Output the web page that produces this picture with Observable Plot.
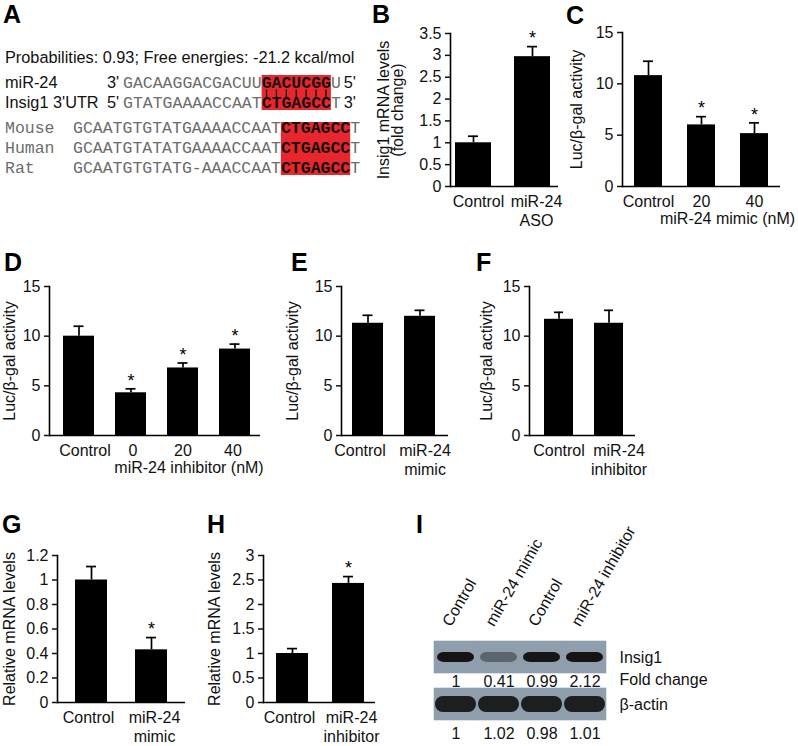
<!DOCTYPE html>
<html><head><meta charset="utf-8">
<script src="https://cdn.jsdelivr.net/npm/d3@7"></script>
<script src="https://cdn.jsdelivr.net/npm/@observablehq/plot@0.6"></script>
<style>
html,body{margin:0;padding:0;background:#fff;}
#fig{position:relative;width:798px;height:746px;overflow:hidden;background:#fff;}
.host{position:absolute;}
.host svg{display:block;max-width:none !important;}
</style></head><body><div id="fig"></div>
<script>
// ---------- DATA ----------
// Panel A
const probText = "Probabilities: 0.93; Free energies: -21.2 kcal/mol";
const pairNames = ["miR-24", "Insig1 3'UTR"];
const pairEnds = [["3'", "5'"], ["5'", "3'"]];
const pairSeqs = [["GACAAGGACGACUU", "GACUCGG", "U"], ["GTATGAAAACCAAT", "CTGAGCC", "T"]];
const species = ["Mouse", "Human", "Rat"];
const speciesSeqs = [
  ["GCAATGTGTATGAAAACCAAT", "CTGAGCC", "T"],
  ["GCAATGTATATGAAAACCAAT", "CTGAGCC", "T"],
  ["GCAATGTGTATG-AAACCAAT", "CTGAGCC", "T"]
];
// Panel B
const bCats = ["Control", "miR-24\nASO"];
const bVals = [1.0, 2.97];
const bErrs = [0.15, 0.23];
const bStars = [false, true];
const bTicks = [0, 0.5, 1, 1.5, 2, 2.5, 3, 3.5];
// Panel C
const cCats = ["Control", "20", "40"];
const cVals = [10.8, 6.0, 5.15];
const cErrs = [1.4, 0.8, 1.05];
const cStars = [false, true, true];
const lucTicks = [0, 5, 10, 15];
// Panel D
const dCats = ["Control", "0", "20", "40"];
const dVals = [10.0, 4.3, 6.8, 8.7];
const dErrs = [1.0, 0.4, 0.5, 0.5];
const dStars = [false, true, true, true];
// Panel E
const eCats = ["Control", "miR-24\nmimic"];
const eVals = [11.3, 12.0];
const eErrs = [0.8, 0.6];
const eStars = [false, false];
// Panel F
const fCats = ["Control", "miR-24\ninhibitor"];
const fVals = [11.7, 11.3];
const fErrs = [0.7, 1.3];
const fStars = [false, false];
// Panel G
const gCats = ["Control", "miR-24\nmimic"];
const gVals = [1.0, 0.43];
const gErrs = [0.11, 0.10];
const gStars = [false, true];
const gTicks = [0, 0.2, 0.4, 0.6, 0.8, 1, 1.2];
// Panel H
const hCats = ["Control", "miR-24\ninhibitor"];
const hVals = [1.0, 2.43];
const hErrs = [0.1, 0.14];
const hStars = [false, true];
const hTicks = [0, 0.5, 1, 1.5, 2, 2.5, 3];
// Panel I
const laneLabels = ["Control", "miR-24 mimic", "Control", "miR-24 inhibitor"];
const blotRows = ["Insig1", "β-actin"];
const insigFold = [1, 0.41, 0.99, 2.12];
const actinFold = [1, 1.02, 0.98, 1.01];
const foldLabel = "Fold change";
const panelLetters = ["A", "B", "C", "D", "E", "F", "G", "H", "I"];

// ---------- HELPERS ----------
const FONT = "'Liberation Sans', Arial, Helvetica, sans-serif";
const MONO = "'Liberation Mono', 'Courier New', monospace";
const fig = document.getElementById("fig");
function place(node, left, top, w, h) {
  const d = document.createElement("div");
  d.className = "host";
  d.style.left = left + "px"; d.style.top = top + "px";
  d.style.width = w + "px"; d.style.height = h + "px";
  d.appendChild(node);
  fig.appendChild(d);
}

function barPanel(cfg) {
  const mL = 72, mR = 45, mT = 28, mB = 58;
  const left = cfg.L - mL, top = cfg.T - mT;
  const width = cfg.R - cfg.L + mL + mR, height = cfg.B - cfg.T + mT + mB;
  const n = cfg.cats.length;
  const x0 = cfg.c0 - cfg.w / 2 - left;
  const x1 = cfg.c0 + (n - 1) * cfg.step + cfg.w / 2 - left;
  const inset = (cfg.w - 10) / 2;
  const data = cfg.cats.map((c, i) => ({cat: c, v: cfg.vals[i], top: cfg.vals[i] + cfg.errs[i], star: cfg.stars[i]}));
  const marks = [
    Plot.barY(data, {x: "cat", y: "v", fill: "#000"}),
    Plot.ruleX(data, {x: "cat", y1: "v", y2: "top", stroke: "#000", strokeWidth: 1.7}),
    Plot.tickY(data, {x: "cat", y: "top", stroke: "#000", strokeWidth: 1.7, insetLeft: inset, insetRight: inset}),
    Plot.text(data.filter(d => d.star), {x: "cat", y: "top", text: () => "*", dy: -8, fontSize: 18, fill: "#000"}),
    Plot.ruleY([0], {stroke: "#000", strokeWidth: 1.6}),
    Plot.frame({anchor: "left", stroke: "#000", strokeWidth: 1.6}),
    Plot.axisY({ticks: cfg.ticks, tickFormat: d => String(d), tickSize: 5, tickPadding: 4, strokeWidth: 1.5, label: null}),
    ...cfg.cats.map((c, i) => Plot.axisX([c], {tickSize: 0, tickPadding: 7, lineHeight: 1.2, label: null, dx: cfg.tdx[i]})),
    Plot.text([cfg.ylabel], {frameAnchor: "left", textAnchor: "middle", rotate: -90, dx: cfg.ylabelDx, lineHeight: 0.9, fill: "#111"})
  ];
  if (cfg.xlabel) {
    marks.push(Plot.text([cfg.xlabel], {x: () => cfg.xlabelAt, frameAnchor: "bottom", textAnchor: "middle", lineAnchor: "top", dx: cfg.xlabelDx, dy: 26, fill: "#111"}));
  }
  const svg = Plot.plot({
    width, height, marginLeft: mL, marginRight: mR, marginTop: mT, marginBottom: mB,
    style: {fontFamily: FONT, fontSize: "16px", background: "transparent", color: "#111", overflow: "visible"},
    x: {type: "band", domain: cfg.cats, range: [x0, x1], paddingInner: 1 - cfg.w / cfg.step, paddingOuter: 0},
    y: {domain: [0, cfg.ticks[cfg.ticks.length - 1]]},
    marks
  });
  place(svg, left, top, width, height);
}

// ---------- BAR PANELS ----------
barPanel({cats: bCats, vals: bVals, errs: bErrs, stars: bStars, ticks: bTicks,
  L: 450, R: 558, T: 33, B: 186, c0: 473, step: 59.5, w: 36, tdx: [5, 4],
  ylabel: "Insig1 mRNA levels\n(fold change)", ylabelDx: -59});
barPanel({cats: cCats, vals: cVals, errs: cErrs, stars: cStars, ticks: lucTicks,
  L: 622, R: 780, T: 32, B: 186, c0: 648, step: 53, w: 28, tdx: [0, 0, 0],
  ylabel: "Luc/β-gal activity", ylabelDx: -45, xlabel: "miR-24 mimic (nM)", xlabelAt: "20", xlabelDx: 26});
barPanel({cats: dCats, vals: dVals, errs: dErrs, stars: dStars, ticks: lucTicks,
  L: 49, R: 260, T: 286, B: 435, c0: 78, step: 52.2, w: 31, tdx: [6, 2, 0, -2],
  ylabel: "Luc/β-gal activity", ylabelDx: -39, xlabel: "miR-24 inhibitor (nM)", xlabelAt: "20", xlabelDx: 6});
barPanel({cats: eCats, vals: eVals, errs: eErrs, stars: eStars, ticks: lucTicks,
  L: 341, R: 448, T: 286, B: 435, c0: 367.5, step: 52.5, w: 31, tdx: [-8, 5],
  ylabel: "Luc/β-gal activity", ylabelDx: -48});
barPanel({cats: fCats, vals: fVals, errs: fErrs, stars: fStars, ticks: lucTicks,
  L: 529, R: 635, T: 286, B: 435, c0: 558, step: 51, w: 30, tdx: [0, 10],
  ylabel: "Luc/β-gal activity", ylabelDx: -42});
barPanel({cats: gCats, vals: gVals, errs: gErrs, stars: gStars, ticks: gTicks,
  L: 57, R: 185, T: 555, B: 702, c0: 91, step: 60, w: 32, tdx: [-3, 3],
  ylabel: "Relative mRNA levels", ylabelDx: -47});
barPanel({cats: hCats, vals: hVals, errs: hErrs, stars: hStars, ticks: hTicks,
  L: 263, R: 375, T: 555, B: 702, c0: 292, step: 56, w: 32, tdx: [-3, 3],
  ylabel: "Relative mRNA levels", ylabelDx: -48});

// ---------- PANEL I (western blot) ----------
(function () {
  const left = 400, top = 500, width = 398, height = 246;
  const lanes = d3.range(laneLabels.length);
  const insig = insigFold.map((v, i) => ({lane: i, v}));
  const actin = actinFold.map((v, i) => ({lane: i, v}));
  const bg = d3.cross(lanes, blotRows).map(([lane, row]) => ({lane, row}));
  const svg = Plot.plot({
    width, height, marginLeft: 32, marginRight: 191, marginTop: 140, marginBottom: 25,
    style: {fontFamily: FONT, fontSize: "16px", background: "transparent", color: "#111", overflow: "visible"},
    x: {type: "band", domain: lanes, padding: 0, axis: null},
    y: {type: "band", domain: blotRows, paddingInner: 0.31, paddingOuter: 0},
    opacity: {domain: [0, 1.0], clamp: true},
    marks: [
      Plot.cell(bg, {x: "lane", y: "row", fill: "#8f9eac", stroke: "#8f9eac", strokeWidth: 0.6}),
      Plot.cell(insig, {x: "lane", y: () => "Insig1", fill: "#141414", fillOpacity: "v",
        insetTop: 11, insetBottom: 11, insetLeft: 3, insetRight: 3, rx: 7, ariaLabel: "band"}),
      Plot.cell(actin, {x: "lane", y: () => "β-actin", fill: "#141414", fillOpacity: 0.93,
        insetTop: 8, insetBottom: 8, insetLeft: 1, insetRight: 1, rx: 8, ariaLabel: "band"}),
      Plot.text(insig, {x: "lane", y: () => "Insig1", text: d => String(d.v), dy: 24, fill: "#111"}),
      Plot.text(actin, {x: "lane", y: () => "β-actin", text: d => String(d.v), dy: 29, fill: "#111"}),
      Plot.text(laneLabels, {x: (d, i) => i, frameAnchor: "top", text: d => d, rotate: -60,
        textAnchor: "start", lineAnchor: "bottom", dx: -5, dy: -13, fill: "#111"}),
      Plot.axisY({anchor: "right", tickSize: 0, tickPadding: 12, label: null}),
      Plot.text([foldLabel], {frameAnchor: "right", y: () => "Insig1", textAnchor: "start", dx: 12, dy: 22, fill: "#111"})
    ]
  });
  const s = d3.select(svg);
  s.insert("defs", ":first-child").append("filter").attr("id", "blotblur")
    .attr("x", "-20%").attr("y", "-50%").attr("width", "140%").attr("height", "200%")
    .append("feGaussianBlur").attr("stdDeviation", 1.3);
  s.selectAll('g[aria-label="band"]').attr("filter", "url(#blotblur)");
  place(svg, left, top, width, height);
})();

// ---------- PANEL A + LETTERS (overlay) ----------
(function () {
  const CW = 9.9; // monospace advance at 16.5px
  const svg = d3.create("svg").attr("width", 798).attr("height", 746)
    .style("position", "absolute").style("left", 0).style("top", 0).style("overflow", "visible");
  const red = "#e8262b", gray = "#6c6c6c";
  const seqX0 = 123, seqX1 = 73;
  svg.append("rect").attr("x", seqX0 + pairSeqs[0][0].length * CW).attr("y", 75)
    .attr("width", pairSeqs[0][1].length * CW).attr("height", 35).attr("fill", red);
  svg.append("rect").attr("x", seqX1 + speciesSeqs[0][0].length * CW).attr("y", 122)
    .attr("width", speciesSeqs[0][1].length * CW).attr("height", 53).attr("fill", red);
  svg.append("text").attr("x", 5).attr("y", 63).attr("font-family", FONT).attr("font-size", 16.3)
    .attr("fill", "#111").text(probText);
  const pairBase = [88, 108];
  pairNames.forEach((nm, i) => {
    const y = pairBase[i];
    svg.append("text").attr("x", 5).attr("y", y).attr("font-family", FONT).attr("font-size", 16.3).attr("fill", "#111").text(nm);
    svg.append("text").attr("x", 107).attr("y", y).attr("font-family", FONT).attr("font-size", 16.3).attr("fill", "#111").text(pairEnds[i][0]);
    const t = svg.append("text").attr("x", seqX0).attr("y", y).attr("font-family", MONO).attr("font-size", 16.5);
    t.append("tspan").attr("fill", gray).text(pairSeqs[i][0]);
    t.append("tspan").attr("fill", "#111").attr("font-weight", "bold").text(pairSeqs[i][1]);
    t.append("tspan").attr("fill", gray).text(pairSeqs[i][2]);
    const endX = seqX0 + (pairSeqs[i][0].length + pairSeqs[i][1].length + pairSeqs[i][2].length) * CW + 3;
    svg.append("text").attr("x", endX).attr("y", y).attr("font-family", FONT).attr("font-size", 16.3).attr("fill", "#111").text(pairEnds[i][1]);
  });
  const bx = seqX0 + pairSeqs[0][0].length * CW;
  d3.range(pairSeqs[0][1].length).forEach(k => {
    svg.append("line").attr("x1", bx + (k + 0.5) * CW).attr("x2", bx + (k + 0.5) * CW)
      .attr("y1", 89.5).attr("y2", 97).attr("stroke", "#111").attr("stroke-width", 1.3);
  });
  const spBase = [133, 153, 173];
  species.forEach((nm, i) => {
    const y = spBase[i];
    svg.append("text").attr("x", 5).attr("y", y).attr("font-family", MONO).attr("font-size", 16.5).attr("fill", gray).text(nm);
    const t = svg.append("text").attr("x", seqX1).attr("y", y).attr("font-family", MONO).attr("font-size", 16.5);
    t.append("tspan").attr("fill", gray).text(speciesSeqs[i][0]);
    t.append("tspan").attr("fill", "#111").attr("font-weight", "bold").text(speciesSeqs[i][1]);
    t.append("tspan").attr("fill", gray).text(speciesSeqs[i][2]);
  });
  const letterPos = [[3, 23], [372, 23], [566, 24], [4, 271], [291, 271], [476, 271], [2, 533], [207, 533], [416, 533]];
  panelLetters.forEach((L, i) => {
    svg.append("text").attr("x", letterPos[i][0]).attr("y", letterPos[i][1]).attr("font-family", FONT)
      .attr("font-size", 25).attr("font-weight", "bold").attr("fill", "#000").text(L);
  });
  fig.appendChild(svg.node());
})();
</script></body></html>
